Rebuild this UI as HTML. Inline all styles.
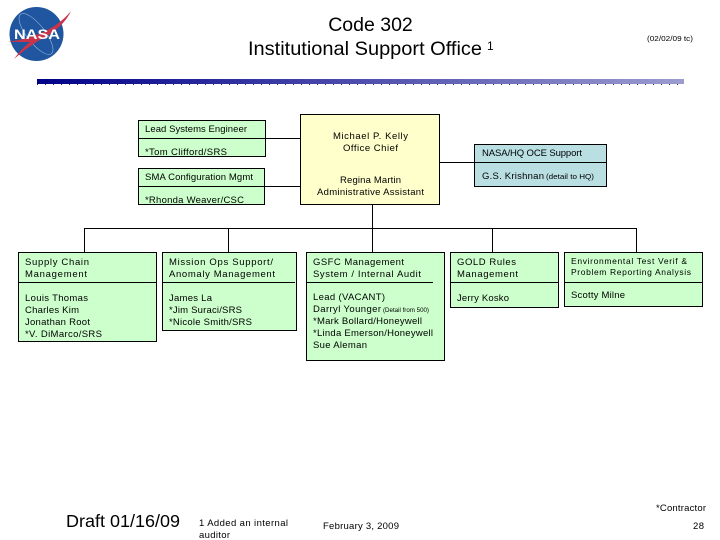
<!DOCTYPE html>
<html><head><meta charset="utf-8"><style>
html,body{margin:0;padding:0;background:#fff}
svg{display:block;font-family:"Liberation Sans",sans-serif;fill:#000}
text{font-size:9.5px}
.b{stroke:#000;stroke-width:1}
.l{stroke:#000;stroke-width:1;fill:none}
.g{fill:#ccffcc}.y{fill:#ffffcc}.t{fill:#b9dfe3}
</style></head><body>
<svg width="720" height="540" viewBox="0 0 720 540" xmlns="http://www.w3.org/2000/svg" shape-rendering="crispEdges">
<defs>
<linearGradient id="bar" x1="0" x2="1" y1="0" y2="0"><stop offset="0" stop-color="#00008a"/><stop offset="1" stop-color="#9c9cd0"/></linearGradient>
</defs>
<!-- NASA logo -->
<g shape-rendering="geometricPrecision">
<circle cx="36.5" cy="34" r="27" fill="#1f569f"/>
<ellipse cx="36" cy="34" rx="25" ry="9" transform="rotate(52 36 34)" fill="none" stroke="#a9c4e4" stroke-width=".5"/>
<path d="M8 42 C28 39 54 32 71 11 C64 26 50 35 38 41 C30 46 22 52 14 59 C20 51 25 46 30 42 C22 42 14 42 8 42Z" fill="#c8344a"/>
<text x="14" y="39" textLength="46" lengthAdjust="spacingAndGlyphs" style="font-size:14px;font-weight:bold;fill:#fff">NASA</text>
</g>
<!-- Title -->
<g shape-rendering="geometricPrecision">
<text x="370.5" y="31" text-anchor="middle" style="font-size:19.5px">Code 302</text>
<text x="248" y="55" textLength="234" lengthAdjust="spacingAndGlyphs" style="font-size:19.5px">Institutional Support Office</text>
<text x="487" y="50" style="font-size:12px">1</text>
<text x="647" y="41" textLength="46" lengthAdjust="spacingAndGlyphs" style="font-size:7.5px">(02/02/09 tc)</text>
</g>
<!-- Bar -->
<rect x="37" y="79" width="647" height="5" fill="url(#bar)"/>
<line x1="37" y1="84.5" x2="685" y2="84.5" stroke="#333" stroke-width="1" stroke-dasharray="1 7"/>
<!-- Connectors -->
<path class="l" d="M266 138.5H300M265 186.5H300M440 162.5H474M372.5 204V228M84.5 252V228.5H636.5V252M228.5 228V252M372.5 228V252M492.5 228V252"/>
<!-- Top boxes -->
<rect class="b g" x="138.500" y="120.500" width="127" height="36"/>
<line class="l" x1="138" y1="138.500" x2="266" y2="138.500"/>
<rect class="b g" x="138.500" y="168.500" width="126" height="36"/>
<line class="l" x1="138" y1="186.500" x2="265" y2="186.500"/>
<rect class="b y" x="300.500" y="114.500" width="139" height="90"/>
<rect class="b t" x="474.500" y="144.500" width="132" height="42"/>
<line class="l" x1="474" y1="162.500" x2="607" y2="162.500"/>
<!-- Row boxes -->
<rect class="b g" x="18.500" y="252.500" width="138" height="89"/>
<line class="l" x1="18" y1="282.500" x2="157" y2="282.500"/>
<rect class="b g" x="162.500" y="252.500" width="134" height="78"/>
<line class="l" x1="162" y1="282.500" x2="295" y2="282.500"/>
<rect class="b g" x="306.500" y="252.500" width="138" height="108"/>
<line class="l" x1="306" y1="282.500" x2="433" y2="282.500"/>
<rect class="b g" x="450.500" y="252.500" width="108" height="55"/>
<line class="l" x1="450" y1="282.500" x2="559" y2="282.500"/>
<rect class="b g" x="564.500" y="252.500" width="138" height="54"/>
<line class="l" x1="564" y1="282.500" x2="703" y2="282.500"/>
<g shape-rendering="geometricPrecision">
<!-- Text top -->
<text x="145" y="132" textLength="102" lengthAdjust="spacing">Lead Systems Engineer</text>
<text x="145" y="155" textLength="82" lengthAdjust="spacing">*Tom Clifford/SRS</text>
<text x="145" y="180" textLength="108" lengthAdjust="spacing">SMA Configuration Mgmt</text>
<text x="145" y="203" textLength="99" lengthAdjust="spacing">*Rhonda Weaver/CSC</text>
<text x="333" y="139" textLength="75" lengthAdjust="spacing">Michael P. Kelly</text>
<text x="343" y="151" textLength="55" lengthAdjust="spacing">Office Chief</text>
<text x="340" y="183" textLength="61" lengthAdjust="spacing">Regina Martin</text>
<text x="317" y="195" textLength="107" lengthAdjust="spacing">Administrative Assistant</text>
<text x="482" y="156" textLength="100" lengthAdjust="spacing">NASA/HQ OCE Support</text>
<text x="482" y="179" textLength="62" lengthAdjust="spacing">G.S. Krishnan</text>
<text x="546" y="179" textLength="48" lengthAdjust="spacingAndGlyphs" style="font-size:7.5px">(detail to HQ)</text>
<!-- Supply -->
<text x="25" y="265" textLength="64" lengthAdjust="spacing">Supply Chain</text>
<text x="25" y="277" textLength="62" lengthAdjust="spacing">Management</text>
<text x="25" y="301" textLength="63" lengthAdjust="spacing">Louis Thomas</text>
<text x="25" y="313" textLength="54" lengthAdjust="spacing">Charles Kim</text>
<text x="25" y="325" textLength="65" lengthAdjust="spacing">Jonathan Root</text>
<text x="25" y="337" textLength="77" lengthAdjust="spacing">*V. DiMarco/SRS</text>
<!-- Mission -->
<text x="169" y="265" textLength="104" lengthAdjust="spacing">Mission Ops Support/</text>
<text x="169" y="277" textLength="106" lengthAdjust="spacing">Anomaly Management</text>
<text x="169" y="301" textLength="43" lengthAdjust="spacing">James La</text>
<text x="169" y="313" textLength="73" lengthAdjust="spacing">*Jim Suraci/SRS</text>
<text x="169" y="325" textLength="83" lengthAdjust="spacing">*Nicole Smith/SRS</text>
<!-- GSFC -->
<text x="313" y="265" textLength="91" lengthAdjust="spacing">GSFC Management</text>
<text x="313" y="277" textLength="108" lengthAdjust="spacing">System / Internal Audit</text>
<text x="313" y="300" textLength="72" lengthAdjust="spacing">Lead (VACANT)</text>
<text x="313" y="312" textLength="68" lengthAdjust="spacing">Darryl Younger</text>
<text x="383" y="312" textLength="46" lengthAdjust="spacingAndGlyphs" style="font-size:6px">(Detail from 500)</text>
<text x="313" y="324" textLength="109" lengthAdjust="spacing">*Mark Bollard/Honeywell</text>
<text x="313" y="336" textLength="120" lengthAdjust="spacing">*Linda Emerson/Honeywell</text>
<text x="313" y="348" textLength="54" lengthAdjust="spacing">Sue Aleman</text>
<!-- GOLD -->
<text x="457" y="265" textLength="59" lengthAdjust="spacing">GOLD Rules</text>
<text x="457" y="277" textLength="61" lengthAdjust="spacing">Management</text>
<text x="457" y="301" textLength="52" lengthAdjust="spacing">Jerry Kosko</text>
<!-- Env -->
<text x="571" y="264" textLength="116" lengthAdjust="spacing" style="font-size:8.500px">Environmental Test Verif &amp;</text>
<text x="571" y="275" textLength="120" lengthAdjust="spacing" style="font-size:8.500px">Problem Reporting Analysis</text>
<text x="571" y="298" textLength="54" lengthAdjust="spacing">Scotty Milne</text>
<!-- Footer -->
<text x="66" y="527" textLength="114" lengthAdjust="spacingAndGlyphs" style="font-size:17.500px">Draft 01/16/09</text>
<text x="199" y="526" textLength="89" lengthAdjust="spacing">1 Added an internal</text>
<text x="199" y="538" textLength="31" lengthAdjust="spacing">auditor</text>
<text x="323" y="529" textLength="76" lengthAdjust="spacing">February 3, 2009</text>
<text x="656" y="511" textLength="50" lengthAdjust="spacing">*Contractor</text>
<text x="693" y="529" textLength="11" lengthAdjust="spacing">28</text>
</g>
</svg>
</body></html>
